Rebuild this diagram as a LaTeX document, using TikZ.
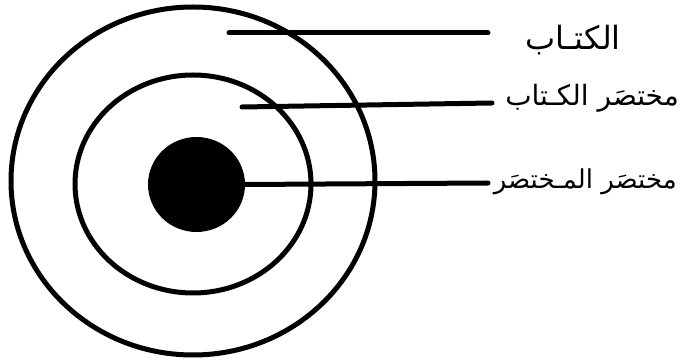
\documentclass[tikz,border=0pt]{standalone}
\usepackage{fontspec}
\usetikzlibrary{shapes.geometric}
\newfontfamily\arabicfont[Script=Arabic]{DejaVu Sans}
\TeXXeTstate=1
\tikzset{
  ring/.style={draw=black, line width=5pt, ellipse, inner sep=0pt},
  leader/.style={draw=black, line width=5pt, line cap=round},
  lbl/.style={inner sep=0pt, anchor=east, font=\arabicfont\fontsize{28}{34}\selectfont}
}
\begin{document}
\begin{tikzpicture}[x=1pt, y=-1pt]
\useasboundingbox[fill=white] (0,0) rectangle (681,363);
\node[ring, minimum width=364pt, minimum height=348pt] (outer) at (193,181) {};
\node[ring, minimum width=236pt, minimum height=218pt] (middle) at (193,184) {};
\node[ellipse, fill=black, inner sep=0pt, minimum width=97pt, minimum height=95pt] (core) at (196.5,184.5) {};
\coordinate (a1) at (229,33);
\coordinate (b1) at (488,33);
\coordinate (a2) at (242,107);
\coordinate (b2) at (492,103);
\coordinate (b3) at (488,183);
\node[lbl, font=\arabicfont\fontsize{32}{38}\selectfont] (t1) at (621,40) {\beginR الكتـاب\endR};
\node[lbl] (t2) at (679,98) {\beginR مختصَر الكـتاب\endR};
\node[lbl, font=\arabicfont\fontsize{26}{31}\selectfont] (t3) at (677,182) {\beginR مختصَر المـختصَر\endR};
\draw[leader] (a1) -- (b1);
\draw[leader] (a2) -- (b2);
\draw[leader] (core.east) -- (b3);
\end{tikzpicture}
\end{document}
